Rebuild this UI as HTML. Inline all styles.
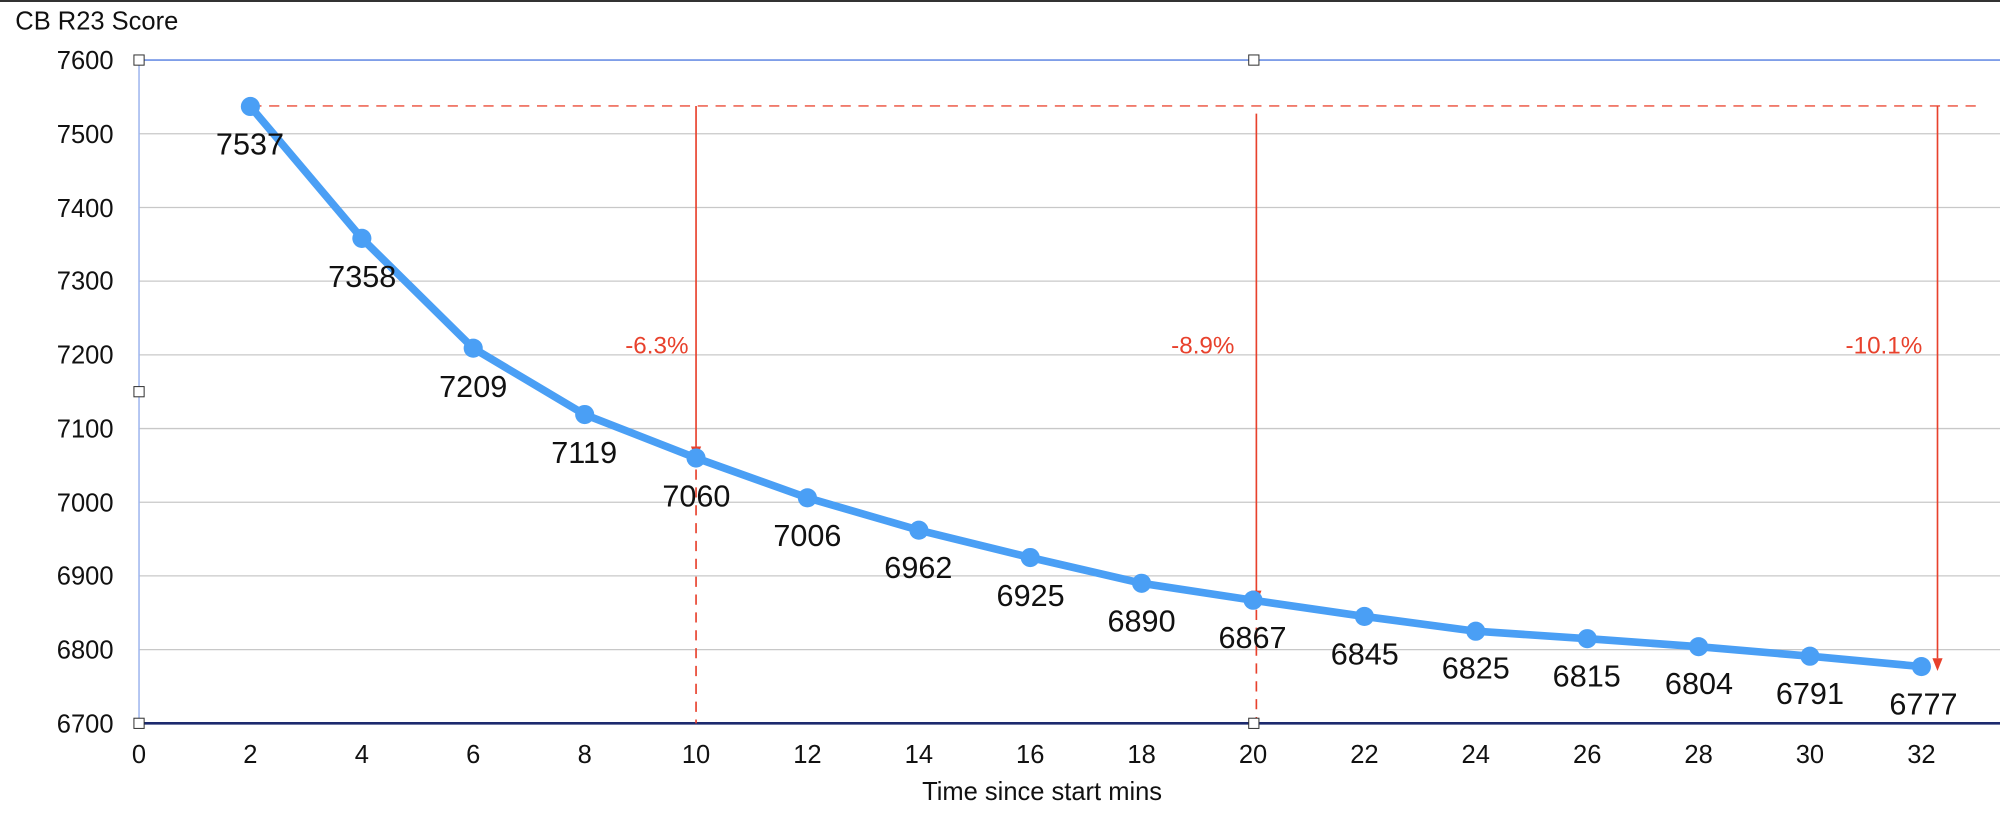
<!DOCTYPE html>
<html><head><meta charset="utf-8"><style>html,body{margin:0;padding:0;background:#fff}svg{display:block}</style></head>
<body>
<svg width="2000" height="814" viewBox="0 0 1568 638" xmlns="http://www.w3.org/2000/svg" font-family="Liberation Sans, sans-serif">
<rect width="1568" height="638" fill="#fff"/>
<line x1="0" y1="0.7" x2="1568" y2="0.7" stroke="#333" stroke-width="1.5"/>
<text x="12" y="23" font-size="20" fill="#111">CB R23 Score</text>
<g stroke="#c8c8c8" stroke-width="1">
<line x1="109" y1="104.8" x2="1568" y2="104.8"/>
<line x1="109" y1="162.6" x2="1568" y2="162.6"/>
<line x1="109" y1="220.3" x2="1568" y2="220.3"/>
<line x1="109" y1="278.1" x2="1568" y2="278.1"/>
<line x1="109" y1="335.9" x2="1568" y2="335.9"/>
<line x1="109" y1="393.7" x2="1568" y2="393.7"/>
<line x1="109" y1="451.4" x2="1568" y2="451.4"/>
<line x1="109" y1="509.2" x2="1568" y2="509.2"/>
</g>
<line x1="109" y1="47" x2="1568" y2="47" stroke="#7f9ee8" stroke-width="1.5"/>
<line x1="109" y1="47" x2="109" y2="567" stroke="#9fb6ee" stroke-width="1.2"/>
<line x1="109" y1="567" x2="1568" y2="567" stroke="#1c2a6e" stroke-width="2"/>
<g font-size="20" fill="#111" text-anchor="end">
<text x="89" y="54">7600</text><text x="89" y="112">7500</text><text x="89" y="170">7400</text><text x="89" y="227">7300</text><text x="89" y="285">7200</text><text x="89" y="343">7100</text><text x="89" y="401">7000</text><text x="89" y="458">6900</text><text x="89" y="516">6800</text><text x="89" y="574">6700</text>
</g>
<g font-size="20" fill="#111" text-anchor="middle">
<text x="109" y="598">0</text><text x="196.3" y="598">2</text><text x="283.7" y="598">4</text><text x="371" y="598">6</text><text x="458.4" y="598">8</text><text x="545.7" y="598">10</text><text x="633" y="598">12</text><text x="720.4" y="598">14</text><text x="807.7" y="598">16</text><text x="895" y="598">18</text><text x="982.4" y="598">20</text><text x="1069.7" y="598">22</text><text x="1157" y="598">24</text><text x="1244.4" y="598">26</text><text x="1331.7" y="598">28</text><text x="1419" y="598">30</text><text x="1506.4" y="598">32</text>
<text x="817" y="627">Time since start mins</text>
</g>
<g stroke="#e8412c" stroke-width="1.3" fill="none">
<line x1="197" y1="83" x2="1552" y2="83" stroke-dasharray="8,6" stroke-opacity="0.8"/>
<line x1="545.7" y1="83" x2="545.7" y2="352"/>
<line x1="545.7" y1="368" x2="545.7" y2="567" stroke-dasharray="8,6"/>
<line x1="985" y1="89" x2="985" y2="464"/>
<line x1="985" y1="478" x2="985" y2="567" stroke-dasharray="8,6"/>
<line x1="1519" y1="83" x2="1519" y2="516"/>
</g>
<g fill="#e8412c">
<polygon points="541.7,350 549.7,350 545.7,360"/>
<polygon points="981,463 989,463 985,473"/>
<polygon points="1515,516 1523,516 1519,526"/>
</g>
<g font-size="19" fill="#e8412c" text-anchor="middle">
<text x="515" y="277">-6.3%</text><text x="943" y="277">-8.9%</text><text x="1477" y="277">-10.1%</text>
</g>
<polyline fill="none" stroke="#4a9ff5" stroke-width="6" stroke-linejoin="round" points="196.3,83.4 283.7,186.8 371,272.9 458.4,324.9 545.7,359 633,390.2 720.4,415.6 807.7,437 895,457.2 982.4,470.5 1069.7,483.2 1157,494.8 1244.4,500.6 1331.7,506.9 1419,514.4 1506.4,522.5"/>
<g fill="#4a9ff5">
<circle cx="196.3" cy="83.4" r="7.5"/><circle cx="283.7" cy="186.8" r="7.5"/><circle cx="371" cy="272.9" r="7.5"/><circle cx="458.4" cy="324.9" r="7.5"/><circle cx="545.7" cy="359" r="7.5"/><circle cx="633" cy="390.2" r="7.5"/><circle cx="720.4" cy="415.6" r="7.5"/><circle cx="807.7" cy="437" r="7.5"/><circle cx="895" cy="457.2" r="7.5"/><circle cx="982.4" cy="470.5" r="7.5"/><circle cx="1069.7" cy="483.2" r="7.5"/><circle cx="1157" cy="494.8" r="7.5"/><circle cx="1244.4" cy="500.6" r="7.5"/><circle cx="1331.7" cy="506.9" r="7.5"/><circle cx="1419" cy="514.4" r="7.5"/><circle cx="1506.4" cy="522.5" r="7.5"/>
</g>
<g font-size="24" fill="#111" text-anchor="middle">
<text x="196" y="121">7537</text><text x="284" y="225">7358</text><text x="371" y="311">7209</text><text x="458" y="363">7119</text><text x="546" y="397">7060</text><text x="633" y="428">7006</text><text x="720" y="453">6962</text><text x="808" y="475">6925</text><text x="895" y="495">6890</text><text x="982" y="508">6867</text><text x="1070" y="521">6845</text><text x="1157" y="532">6825</text><text x="1244" y="538">6815</text><text x="1332" y="544">6804</text><text x="1419" y="552">6791</text><text x="1508" y="560">6777</text>
</g>
<g fill="#fff" stroke="#333" stroke-width="0.8">
<rect x="105" y="43" width="8" height="8"/><rect x="979" y="43" width="8" height="8"/><rect x="105" y="303" width="8" height="8"/><rect x="105" y="563" width="8" height="8"/><rect x="979" y="563" width="8" height="8"/>
</g>
</svg>
</body></html>
